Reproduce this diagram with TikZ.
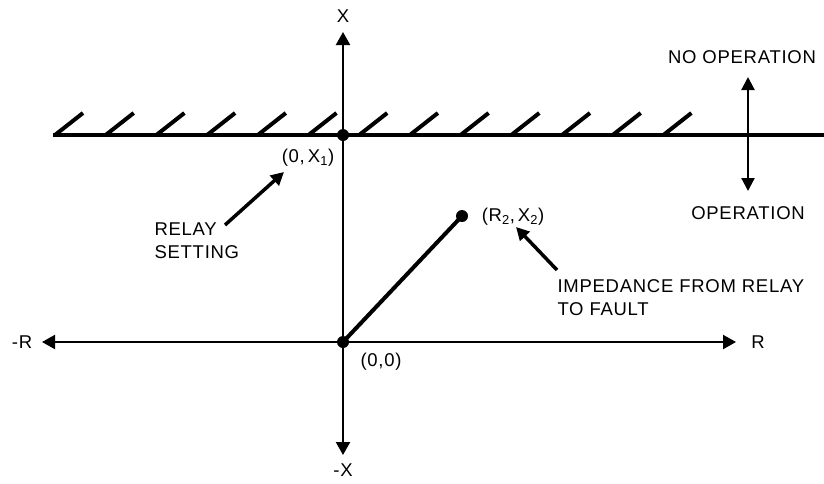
\documentclass[tikz,border=0pt]{standalone}
\usepackage{fontspec}
\setmainfont{Liberation Sans}[LetterSpace=4]
\usetikzlibrary{arrows.meta}

\begin{document}
\begin{tikzpicture}[x=1pt,y=-1pt,font=\fontsize{18.5}{23}\selectfont,
    axis/.style={line width=2.2pt,-{Triangle[length=13pt,width=14pt]}},
    pointer/.style={line width=3.5pt,-{Triangle[length=13pt,width=13pt]}},
    heavy/.style={line width=4pt},
    dot/.style={circle,fill=black,inner sep=0pt,minimum size=12pt}]
    \useasboundingbox (0,0) rectangle (824,483);
    % axes
    \node[dot] (O) at (343,342) {};
    \coordinate (Xtop) at (343,32);
    \coordinate (Xbot) at (343,455);
    \coordinate (Rleft) at (42,342);
    \coordinate (Rright) at (736,342);
    \draw[axis] (O.center) -- (Xtop);
    \draw[axis] (O.center) -- (Xbot);
    \draw[axis] (O.center) -- (Rleft);
    \draw[axis] (O.center) -- (Rright);
    \node (xlab) at (343,16) {X};
    \node (mxlab) at (343,470) {-X};
    \node (mrlab) at (22,342) {-R};
    \node (rlab) at (758,342) {R};
    \node (olab) at (381,362) {(0,0)};
    % relay setting line with hatching
    \coordinate (setL) at (53,135);
    \coordinate (setR) at (824,135);
    \draw[heavy] (setL) -- (setR);
    \foreach \i in {0,...,12}
      \draw[heavy] ({55+50.7*\i},135) -- ++(28,-22);
    \node[dot] (X1) at (343,135) {};
    \node (x1lab) at (308,158) {(0,\,X\textsubscript{1})};
    % operation directions
    \coordinate (opmid) at (748,135);
    \coordinate (optop) at (748,77);
    \coordinate (opbot) at (748,191);
    \draw[axis,{Triangle[length=13pt,width=13pt]}-{Triangle[length=13pt,width=13pt]}] (optop) -- (opbot);
    \node (noop) at (742,57) {NO OPERATION};
    \node (op) at (748,213) {OPERATION};
    % fault impedance
    \node[dot] (Z2) at (462,216) {};
    \draw[heavy] (O.center) -- (Z2.center);
    \node (z2lab) at (513,217) {(R\textsubscript{2},\,X\textsubscript{2})};
    % callouts
    \node[anchor=west,align=left] (relay) at (151,241) {RELAY\\SETTING};
    \coordinate (relaytail) at (225,225);
    \coordinate (relaytip) at (284,172);
    \draw[pointer] (relaytail) -- (relaytip);
    \node[anchor=west,align=left] (imp) at (554,298) {IMPEDANCE FROM RELAY\\TO FAULT};
    \coordinate (imptail) at (557,270);
    \coordinate (imptip) at (516,227);
    \draw[pointer] (imptail) -- (imptip);
\end{tikzpicture}
\end{document}
